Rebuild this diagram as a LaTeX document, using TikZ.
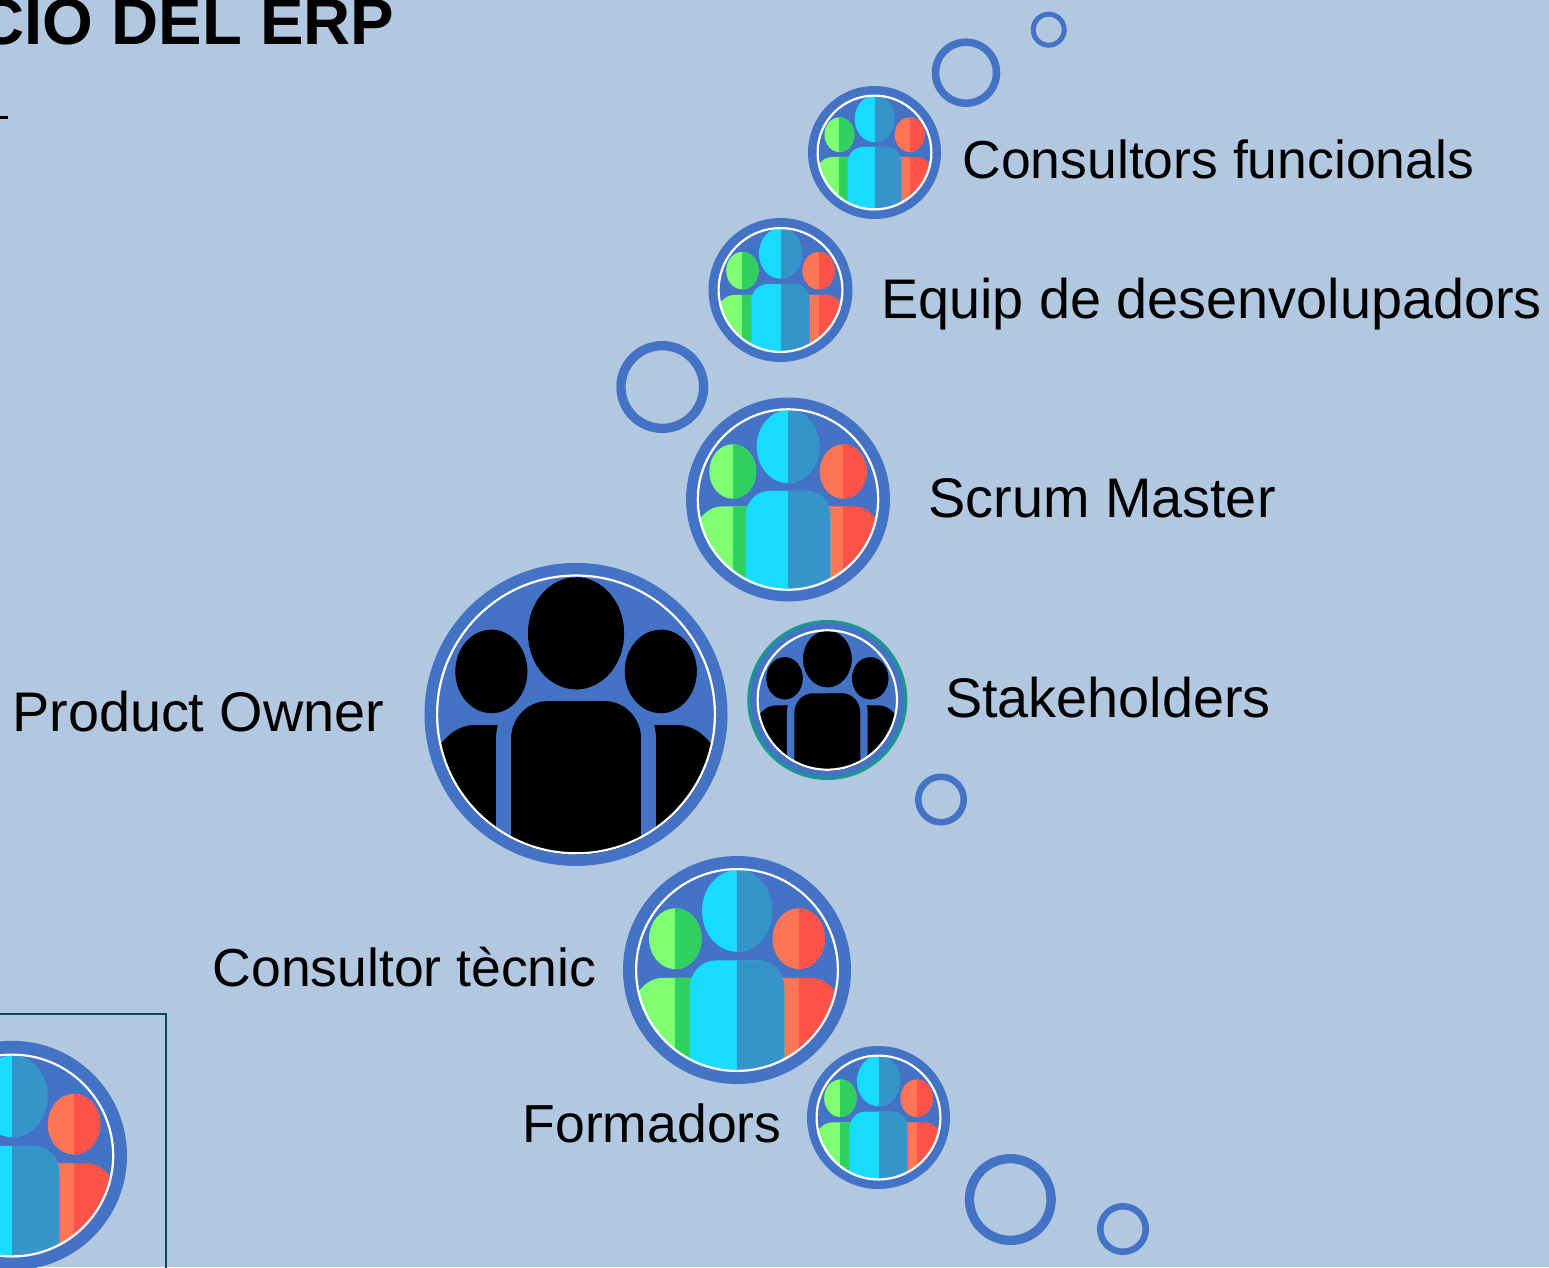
\documentclass[tikz,border=0pt]{standalone}
\usepackage{fontspec}
\setmainfont{Liberation Sans}
\definecolor{bg}{HTML}{B1C8E0}
\definecolor{ringblue}{HTML}{4472C4}
\definecolor{ringteal}{HTML}{17998F}
\definecolor{framedark}{HTML}{0B4A50}
\definecolor{gl}{HTML}{80FF72}
\definecolor{gd}{HTML}{2ED160}
\definecolor{cl}{HTML}{17DBFF}
\definecolor{cd}{HTML}{3595C8}
\definecolor{rl}{HTML}{FF7657}
\definecolor{rd}{HTML}{FF5349}
\tikzset{
  lbl/.style={font=\fontsize{55.8}{60}\selectfont,anchor=base west,inner sep=0pt,text=black},
  lblsmall/.style={font=\fontsize{53.5}{58}\selectfont,anchor=base west,inner sep=0pt,text=black},
  ttl/.style={font=\fontsize{65.2}{68}\selectfont\bfseries,anchor=base east,inner sep=0pt,text=black},
  bubble/.style={circle,draw=ringblue,fill=none,inner sep=0pt,outer sep=0pt},
  disc/.style={circle,fill=ringblue,inner sep=0pt,outer sep=0pt},
}
% two-tone shape: #1 path, #2 split x, #3 colour left of split, #4 colour right of split
\newcommand{\twotone}[4]{%
  \begin{scope}
    \clip #1;
    \fill[#3] (-2,-2) rectangle (2,2);
    \fill[#4] (#2,-2) rectangle (2,2);
  \end{scope}}
\newcommand{\sidepath}{(-.30,-.076) -- (-.72,-.076) .. controls (-.86,-.076) and (-.95,-.17) .. (-1.05,-.33) -- (-1.05,-1.1) -- (-.30,-1.1) -- cycle}
\newcommand{\midpath}{(-.464,-1.1) -- (-.464,-.175) .. controls (-.464,-.03) and (-.35,.095) .. (-.2,.095) -- (.2,.095) .. controls (.35,.095) and (.464,-.03) .. (.464,-.175) -- (.464,-1.1) -- cycle}
\newcommand{\teamart}[9]{%
  \begin{scope}[shift={(#1,#2)},x=#3pt,y=#3pt]
    \clip (0,0) circle [radius=1];
    \twotone{\sidepath}{-.605}{#4}{#5}
    \begin{scope}[xscale=-1]
      \twotone{\sidepath}{-.605}{#9}{#8}
    \end{scope}
    \ifdim\gapw pt>0pt
      \draw[ringblue,line width=\gapw*#3 pt] \midpath;
    \fi
    \twotone{\midpath}{0}{#6}{#7}
    \twotone{(-.605,.307) ellipse [x radius=.257,y radius=.298]}{-.605}{#4}{#5}
    \twotone{(.605,.307) ellipse [x radius=.257,y radius=.298]}{.605}{#8}{#9}
    \twotone{(0,.579) ellipse [x radius=.343,y radius=.40]}{0}{#6}{#7}
  \end{scope}
  \draw[white,line width=2.2pt] (#1,#2) circle [radius=#3-1.1];
}
\newcommand{\gapw}{0}
\newcommand{\colourteam}[4]{%
  \node[disc,minimum size=2*#4pt] (#1) at (#2,#3) {};}
\begin{document}
\begin{tikzpicture}[x=1pt,y=-1pt]
\useasboundingbox (0,0) rectangle (1549,1267);
\fill[bg] (0,0) rectangle (1549,1267);

% title and cut-off mark
\node[ttl] (title) at (394.5,44.3) {CIO DEL ERP};
\coordinate (markA) at (0,117.3);
\coordinate (markB) at (8,117.3);
\draw[black,line width=2.8pt] (markA) -- (markB);

% frame at lower left
\coordinate (frameA) at (-5,1014);
\coordinate (frameB) at (166,1014);
\coordinate (frameC) at (166,1275);
\draw[framedark,line width=2.2pt] (frameA) -- (frameB) -- (frameC);

% bubbles
\node[bubble,line width=7.5pt,minimum size=61pt] (b1) at (966,72.7) {};
\node[bubble,line width=5pt,minimum size=31pt] (b2) at (1048.7,29.7) {};
\node[bubble,line width=9.3pt,minimum size=82.7pt] (b3) at (662.3,387) {};
\node[bubble,line width=6.5pt,minimum size=45.5pt] (b4) at (941,799.5) {};
\node[bubble,line width=9.3pt,minimum size=81.7pt] (b5) at (1010.3,1199.5) {};
\node[bubble,line width=6.5pt,minimum size=45.5pt] (b6) at (1123,1229) {};

% coloured teams
\colourteam{funcionals}{874.5}{152.5}{66.5}
\teamart{874.5}{152.5}{58}{gl}{gd}{cl}{cd}{rl}{rd}
\colourteam{desenvolupadors}{780.5}{290}{72}
\teamart{780.5}{290}{63}{gl}{gd}{cl}{cd}{rl}{rd}
\colourteam{scrum}{788}{499.5}{102}
\teamart{788}{499.5}{91.3}{gl}{gd}{cl}{cd}{rl}{rd}
\colourteam{tecnic}{737}{970}{114}
\teamart{737}{970}{102}{gl}{gd}{cl}{cd}{rl}{rd}
\colourteam{formadors}{878.5}{1117.5}{71.5}
\teamart{878.5}{1117.5}{63}{gl}{gd}{cl}{cd}{rl}{rd}
\colourteam{partial}{12.3}{1155.5}{114.7}
\teamart{12.3}{1155.5}{102}{gl}{gd}{cl}{cd}{rl}{rd}

% black teams
\renewcommand{\gapw}{0.214}
\colourteam{owner}{576}{714.4}{151.5}
\teamart{576}{714.4}{140}{black}{black}{black}{black}{black}{black}
\node[disc,draw=ringteal,line width=3pt,minimum size=157pt] (stake) at (827.3,700) {};
\teamart{827.3}{700}{70.8}{black}{black}{black}{black}{black}{black}

% labels
\node[lblsmall] (l1) at (962.3,178.5) {Consultors funcionals};
\node[lbl] (l2) at (881,318) {Equip de desenvolupadors};
\node[lbl] (l3) at (928.2,517) {Scrum Master};
\node[lbl] (l4) at (945,717) {Stakeholders};
\node[lbl] (l5) at (12,731) {Product Owner};
\node[lblsmall] (l6) at (212.5,986.5) {Consultor tècnic};
\node[lblsmall] (l7) at (522.5,1142) {Formadors};
\end{tikzpicture}
\end{document}
